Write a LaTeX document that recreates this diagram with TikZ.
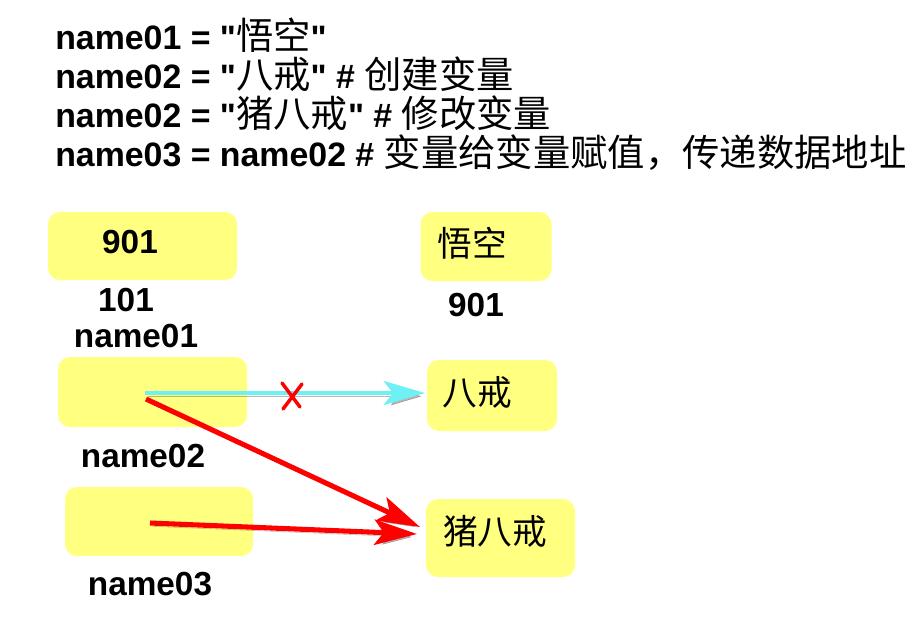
\documentclass[tikz,border=0pt]{standalone}
\usepackage{fontspec}
\setmainfont{Liberation Sans}[Ligatures=TeXOff]
\newfontfamily\cjk{Noto Sans CJK SC}
\newcommand{\zh}[1]{{\mdseries\cjk\fontsize{28}{32}\selectfont #1}}
\usetikzlibrary{arrows.meta,positioning}

\definecolor{memo}{RGB}{255,255,128}
\definecolor{oldref}{RGB}{110,240,245}

\tikzset{
  cell/.style={fill=memo, rounded corners=9pt, inner sep=0pt},
  code/.style={anchor=base west, inner sep=0pt, font=\fontsize{25.4}{30}\selectfont\bfseries},
  lbl/.style={anchor=base, inner sep=0pt, font=\fontsize{25}{30}\selectfont\bfseries},
  val/.style={inner sep=0pt, font=\fontsize{26}{30}\selectfont\cjk},
  shade/.style={preaction={draw=black, opacity=.28, transform canvas={shift={(2pt,-2.5pt)}}}},
  ptr/.style={line width=3.8pt, red, shade, -{Stealth[length=32pt,width=19pt,inset=7pt]}},
  oldptr/.style={line width=3pt, oldref, shade, -{Stealth[length=31pt,width=18pt,inset=7pt]}},
  cut/.style={line width=2.6pt, red, line cap=round}
}

\begin{document}
\begin{tikzpicture}[x=0.75pt,y=-0.75pt]

\useasboundingbox (0,0) rectangle (912,622);

% Code lines
\node[code] (l1) at (55,49) {name01 = "\zh{悟空}"};
\node[code] (l2) at (55,88) {name02 = "\zh{八戒}" \# \zh{创建变量}};
\node[code] (l3) at (55,127) {name02 = "\zh{猪八戒}" \# \zh{修改变量}};
\node[code] (l4) at (55,166) {name03 = name02 \# \zh{变量给变量赋值，传递数据地址}};

% Variable boxes
\node[cell, minimum width=141.75pt, minimum height=51pt] (m01) at (142.5,246) {};
\node[cell, minimum width=141.75pt, minimum height=52.5pt] (m02) at (152.5,392) {};
\node[cell, minimum width=141pt, minimum height=51.75pt] (m03) at (159,521.5) {};

% Value boxes
\node[cell, minimum width=98.25pt, minimum height=51.75pt] (wk) at (486,246.5) {};
\node[cell, minimum width=97.5pt, minimum height=53.25pt] (bj) at (492,395.5) {};
\node[cell, minimum width=111.75pt, minimum height=58.5pt] (zbj) at (500.5,538) {};

% Texts
\node[lbl] (a901) at (130,253) {901};
\node[lbl] (a101) at (126,311) {101};
\node[lbl] (n01) at (136,347) {name01};
\node[lbl] (n02) at (143,467) {name02};
\node[lbl] (n03) at (150,595) {name03};
\node[lbl] (b901) at (476,316) {901};
\node[val] (twk) at (472,243) {悟空};
\node[val] (tbj) at (477,392) {八戒};
\node[val] (tzbj) at (495,531) {猪八戒};

% Arrow ends
\coordinate (s02) at (145,393);
\coordinate (r02) at (146,399);
\coordinate (s03) at (150,523);
\coordinate (e1) at (425,393);
\coordinate (e2) at (420,527);
\coordinate (e3) at (417,534);

% Old reference, cut
\draw[oldptr] (s02) -- (e1);
\draw[cut] (282,383) -- (300,407) (302,384) -- (283,409);

% New references
\draw[ptr] (r02) -- (e2);
\draw[ptr] (s03) -- (e3);

\end{tikzpicture}
\end{document}
